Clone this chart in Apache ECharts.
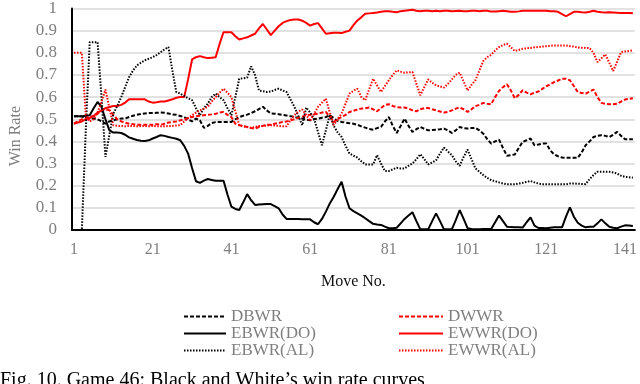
<!DOCTYPE html>
<html>
<head>
<meta charset="utf-8">
<script src="https://cdn.jsdelivr.net/npm/echarts@6/dist/echarts.min.js"></script>
<style>
  html, body { margin: 0; padding: 0; background: #fff; }
  #chart { width: 640px; height: 384px; }
</style>
</head>
<body>
<div id="chart"></div>
<script>
// move numbers 1..143 on the category axis
const moves = Array.from({ length: 143 }, (_, i) => String(i + 1));

const dbwr = [
  0.514, 0.514, 0.512, 0.508, 0.503, 0.503, 0.5, 0.49, 0.48, 0.49,
  0.495, 0.5, 0.503, 0.503, 0.51, 0.516, 0.52, 0.524, 0.526, 0.528,
  0.528, 0.529, 0.53, 0.529, 0.526, 0.522, 0.52, 0.515, 0.51, 0.5,
  0.49, 0.503, 0.495, 0.461, 0.47, 0.483, 0.487, 0.488, 0.488, 0.488,
  0.488, 0.5, 0.51, 0.516, 0.521, 0.528, 0.536, 0.546, 0.556, 0.54,
  0.526, 0.525, 0.523, 0.52, 0.517, 0.514, 0.51, 0.507, 0.503, 0.499,
  0.495, 0.5, 0.503, 0.507, 0.51, 0.518, 0.505, 0.492, 0.488, 0.485,
  0.482, 0.48, 0.475, 0.468, 0.462, 0.456, 0.453, 0.46, 0.466, 0.49,
  0.51, 0.47, 0.438, 0.47, 0.503, 0.47, 0.443, 0.455, 0.465, 0.457,
  0.45, 0.452, 0.453, 0.455, 0.458, 0.45, 0.438, 0.45, 0.465, 0.46,
  0.458, 0.46, 0.461, 0.45, 0.435, 0.41, 0.39, 0.4, 0.408, 0.37,
  0.335, 0.338, 0.341, 0.37, 0.398, 0.405, 0.413, 0.383, 0.386, 0.39,
  0.39, 0.36, 0.341, 0.333, 0.327, 0.326, 0.326, 0.326, 0.326, 0.35,
  0.383, 0.4, 0.42, 0.425, 0.428, 0.425, 0.42, 0.43, 0.443, 0.425,
  0.41, 0.41, 0.41
];

const dwwr = [
  0.48, 0.49, 0.5, 0.505, 0.51, 0.515, 0.525, 0.54, 0.545, 0.54,
  0.52, 0.5, 0.49, 0.485, 0.48, 0.478, 0.475, 0.475, 0.475, 0.475,
  0.475, 0.478, 0.475, 0.48, 0.485, 0.488, 0.49, 0.495, 0.5, 0.505,
  0.51, 0.514, 0.516, 0.518, 0.52, 0.522, 0.525, 0.53, 0.533, 0.52,
  0.51, 0.48, 0.473, 0.47, 0.465, 0.46, 0.458, 0.465, 0.47, 0.475,
  0.475, 0.48, 0.483, 0.488, 0.49, 0.495, 0.5, 0.507, 0.512, 0.518,
  0.52, 0.523, 0.525, 0.53, 0.533, 0.51, 0.488, 0.5, 0.51, 0.52,
  0.533, 0.538, 0.544, 0.548, 0.55, 0.553, 0.545, 0.536, 0.55, 0.565,
  0.568, 0.56, 0.555, 0.553, 0.553, 0.548, 0.54, 0.536, 0.545, 0.55,
  0.551, 0.545, 0.54, 0.535, 0.53, 0.533, 0.54, 0.548, 0.553, 0.545,
  0.533, 0.545, 0.559, 0.565, 0.574, 0.57, 0.568, 0.6, 0.628, 0.645,
  0.658, 0.63, 0.595, 0.61, 0.631, 0.62, 0.613, 0.62, 0.625, 0.637,
  0.649, 0.658, 0.668, 0.675, 0.683, 0.683, 0.676, 0.65, 0.623, 0.618,
  0.616, 0.625, 0.634, 0.6, 0.574, 0.57, 0.568, 0.568, 0.57, 0.58,
  0.589, 0.592, 0.595
];

const ebwrDo = [
  0.514, 0.514, 0.514, 0.516, 0.518, 0.55, 0.578, 0.555, 0.5, 0.45,
  0.44, 0.44, 0.438, 0.43, 0.418, 0.412, 0.406, 0.403, 0.402, 0.405,
  0.413, 0.42, 0.428, 0.425, 0.42, 0.416, 0.412, 0.405, 0.38, 0.345,
  0.28, 0.22, 0.213, 0.223, 0.23, 0.226, 0.222, 0.222, 0.222, 0.16,
  0.105, 0.095, 0.09, 0.125, 0.162, 0.135, 0.113, 0.115, 0.116, 0.117,
  0.117, 0.108, 0.098, 0.07, 0.05, 0.05, 0.05, 0.05, 0.049, 0.048,
  0.048, 0.035, 0.026, 0.05, 0.083, 0.12, 0.15, 0.185, 0.218, 0.15,
  0.098, 0.085, 0.075, 0.065, 0.053, 0.04, 0.028, 0.025, 0.023, 0.015,
  0.008, 0.008, 0.01, 0.03, 0.05, 0.065, 0.08, 0.04, 0.003, 0.003,
  0.003, 0.04, 0.075, 0.04, 0.003, 0.003, 0.003, 0.045, 0.09, 0.05,
  0.008, 0.005, 0.003, 0.003, 0.004, 0.004, 0.004, 0.035, 0.065, 0.04,
  0.015, 0.013, 0.012, 0.012, 0.011, 0.035, 0.057, 0.02, 0.009, 0.009,
  0.008, 0.01, 0.012, 0.012, 0.012, 0.06, 0.102, 0.06, 0.033, 0.02,
  0.012, 0.015, 0.015, 0.03, 0.048, 0.03, 0.015, 0.01, 0.008, 0.015,
  0.021, 0.02, 0.018
];

const ewwrDo = [
  0.48, 0.485, 0.49, 0.5, 0.505, 0.515, 0.53, 0.54, 0.55, 0.555,
  0.56, 0.56, 0.565, 0.575, 0.59, 0.59, 0.59, 0.59, 0.59, 0.58,
  0.575, 0.577, 0.58, 0.58, 0.585, 0.59, 0.597, 0.6, 0.6, 0.68,
  0.77, 0.78, 0.785, 0.78, 0.776, 0.778, 0.78, 0.84, 0.893, 0.893,
  0.893, 0.875, 0.86, 0.865, 0.87, 0.878, 0.886, 0.91, 0.93, 0.905,
  0.88, 0.9, 0.92, 0.935, 0.943, 0.948, 0.95, 0.95, 0.945, 0.935,
  0.923, 0.93, 0.934, 0.91, 0.886, 0.888, 0.89, 0.89, 0.889, 0.895,
  0.9, 0.925, 0.946, 0.96, 0.976, 0.978, 0.98, 0.982, 0.985, 0.988,
  0.988, 0.985, 0.983, 0.988, 0.99, 0.992, 0.994, 0.99, 0.988, 0.99,
  0.99, 0.988, 0.99, 0.988, 0.99, 0.99, 0.988, 0.989, 0.99, 0.988,
  0.988, 0.99, 0.99, 0.988, 0.99, 0.99, 0.986, 0.986, 0.988, 0.99,
  0.988, 0.985, 0.985, 0.987, 0.99, 0.99, 0.99, 0.99, 0.99, 0.99,
  0.99, 0.988, 0.988, 0.985, 0.975, 0.965, 0.975, 0.985, 0.985, 0.983,
  0.982, 0.985, 0.99, 0.985, 0.983, 0.982, 0.983, 0.982, 0.981, 0.98,
  0.98, 0.98, 0.979
];

const ebwrAl = [
  0, 0, 0, 0.45, 0.848, 0.848, 0.848, 0.6, 0.33, 0.43,
  0.525, 0.56, 0.6, 0.645, 0.69, 0.72, 0.743, 0.755, 0.766, 0.773,
  0.78, 0.79, 0.803, 0.815, 0.826, 0.72, 0.623, 0.616, 0.605, 0.595,
  0.586, 0.55, 0.518, 0.55, 0.57, 0.6, 0.616, 0.6, 0.586, 0.55,
  0.518, 0.6, 0.683, 0.685, 0.688, 0.739, 0.7, 0.63, 0.627, 0.623,
  0.625, 0.632, 0.638, 0.63, 0.623, 0.59, 0.556, 0.515, 0.473, 0.553,
  0.53, 0.503, 0.443, 0.383, 0.45, 0.521, 0.47, 0.44, 0.42, 0.38,
  0.345, 0.336, 0.327, 0.31, 0.296, 0.296, 0.296, 0.338, 0.3, 0.266,
  0.266, 0.274, 0.281, 0.278, 0.278, 0.29, 0.3, 0.32, 0.342, 0.32,
  0.296, 0.305, 0.315, 0.345, 0.372, 0.355, 0.338, 0.31, 0.29, 0.33,
  0.363, 0.32, 0.278, 0.263, 0.248, 0.235, 0.225, 0.22, 0.215, 0.21,
  0.206, 0.206, 0.206, 0.21, 0.213, 0.217, 0.221, 0.215, 0.21, 0.207,
  0.207, 0.206, 0.206, 0.206, 0.206, 0.206, 0.21, 0.21, 0.209, 0.208,
  0.207, 0.23, 0.248, 0.263, 0.263, 0.263, 0.263, 0.26, 0.255, 0.245,
  0.24, 0.238, 0.236
];

const ewwrAl = [
  0.8, 0.8, 0.8, 0.52, 0.49, 0.5, 0.53, 0.58, 0.634, 0.55,
  0.473, 0.47, 0.47, 0.468, 0.47, 0.47, 0.468, 0.47, 0.47, 0.468,
  0.47, 0.468, 0.468, 0.468, 0.47, 0.47, 0.472, 0.473, 0.49, 0.505,
  0.518, 0.53, 0.54, 0.548, 0.556, 0.58, 0.6, 0.62, 0.638, 0.62,
  0.6, 0.535, 0.473, 0.468, 0.465, 0.461, 0.465, 0.47, 0.47, 0.472,
  0.473, 0.472, 0.47, 0.468, 0.468, 0.495, 0.518, 0.535, 0.544, 0.52,
  0.492, 0.525, 0.556, 0.575, 0.593, 0.53, 0.473, 0.5, 0.526, 0.57,
  0.616, 0.628, 0.638, 0.6, 0.586, 0.635, 0.683, 0.653, 0.623, 0.65,
  0.676, 0.7, 0.721, 0.715, 0.71, 0.712, 0.713, 0.66, 0.608, 0.645,
  0.68, 0.665, 0.653, 0.648, 0.643, 0.66, 0.68, 0.7, 0.71, 0.67,
  0.63, 0.655, 0.676, 0.72, 0.763, 0.78, 0.791, 0.81, 0.826, 0.835,
  0.841, 0.825, 0.808, 0.813, 0.818, 0.82, 0.822, 0.825, 0.826, 0.828,
  0.83, 0.832, 0.833, 0.833, 0.833, 0.833, 0.83, 0.828, 0.824, 0.823,
  0.822, 0.821, 0.8, 0.758, 0.775, 0.793, 0.755, 0.718, 0.76, 0.803,
  0.806, 0.808, 0.811
];

const font = "'Liberation Serif', 'Times New Roman', serif";
const grey = '#7f7f7f';

function line(name, data, color, type) {
  return {
    name: name,
    type: 'line',
    data: data,
    symbol: 'none',
    animation: false,
    lineStyle: { color: color, width: 2, type: type },
    itemStyle: { color: color },
  };
}

const legendBase = {
  orient: 'vertical',
  top: 303,
  itemHeight: 12,
  itemGap: 0,
  itemStyle: { opacity: 0 },
  textStyle: { fontFamily: font, fontSize: 17, color: grey, lineHeight: 17 },
};

var myChart = echarts.init(document.getElementById('chart'));
var option = {
  backgroundColor: '#fff',
  grid: { left: 72, right: 2, top: 8, bottom: 154 },
  xAxis: {
    type: 'category',
    data: moves,
    boundaryGap: true,
    name: 'Move No.',
    nameLocation: 'middle',
    nameGap: 44,
    nameTextStyle: { fontFamily: font, fontSize: 16, color: '#111' },
    axisLine: { lineStyle: { color: '#000', width: 2 } },
    axisTick: { show: false },
    axisLabel: { interval: 19, margin: 12, fontFamily: font, fontSize: 16, color: grey },
  },
  yAxis: {
    type: 'value',
    min: 0,
    max: 1,
    interval: 0.1,
    axisLine: { show: true, lineStyle: { color: '#000', width: 2 } },
    axisTick: { show: false },
    axisLabel: { margin: 15, fontFamily: font, fontSize: 17, color: grey },
    splitLine: { lineStyle: { color: '#d9d9d9', width: 1.5 } },
  },
  legend: [
    Object.assign({}, legendBase, {
      left: 178, itemWidth: 42,
      data: ['DBWR', 'EBWR(DO)', 'EBWR(AL)'],
    }),
    Object.assign({}, legendBase, {
      left: 393, itemWidth: 44,
      data: ['DWWR', 'EWWR(DO)', 'EWWR(AL)'],
    }),
  ],
  graphic: [
    {
      type: 'text', left: 8, top: 106, rotation: Math.PI / 2,
      style: { text: 'Win Rate', font: '16px ' + font, fill: grey },
    },
    {
      type: 'text', left: 0, top: 371,
      style: { text: 'Fig. 10. Game 46: Black and White\u2019s win rate curves', font: '20px ' + font, fill: '#000' },
    },
  ],
  series: [
    line('DBWR', dbwr, '#000', [4, 2]),
    line('DWWR', dwwr, '#ff0000', [4, 2]),
    line('EBWR(DO)', ebwrDo, '#000', 'solid'),
    line('EWWR(DO)', ewwrDo, '#ff0000', 'solid'),
    line('EBWR(AL)', ebwrAl, '#000', [1.5, 1.5]),
    line('EWWR(AL)', ewwrAl, '#ff0000', [1.5, 1.5]),
  ],
};
myChart.setOption(option);
</script>
</body>
</html>
